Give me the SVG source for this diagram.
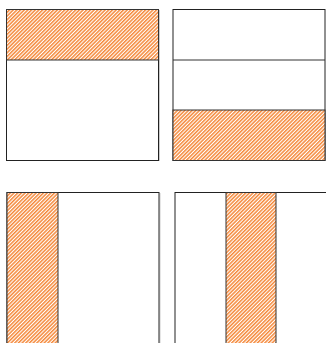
<svg xmlns="http://www.w3.org/2000/svg" width="326" height="343" viewBox="0 0 326 343">
<style>
.box{fill:#fff;stroke:#222;stroke-width:1}
.hatch{fill:url(#h);stroke:#333;stroke-width:1}
.line{stroke:#333;stroke-width:1;fill:none}
.shadow{stroke:#ccc;stroke-width:1;fill:none}
</style>
<defs>
<pattern id="h" patternUnits="userSpaceOnUse" width="2.6" height="2.6" patternTransform="rotate(45)">
<rect width="2.6" height="2.6" fill="#fff"/>
<rect width="1.5" height="2.6" fill="#f5893a"/>
</pattern>
</defs>
<g id="panel-top-left">
<line class="shadow" x1="159.5" y1="10" x2="159.5" y2="161"/>
<rect class="box" x="6.5" y="9.5" width="152" height="151"/>
<rect class="hatch" x="6.5" y="9.5" width="152" height="50.5"/>
</g>
<g id="panel-top-right">
<rect class="box" x="173" y="9.5" width="152" height="151"/>
<line class="line" x1="173" y1="60" x2="325" y2="60"/>
<rect class="hatch" x="173" y="110" width="152" height="50.5"/>
</g>
<g id="panel-bottom-left">
<line class="shadow" x1="160" y1="193" x2="160" y2="343"/>
<rect class="box" x="7" y="192.5" width="152" height="152"/>
<rect class="hatch" x="7" y="192.5" width="51" height="152"/>
</g>
<g id="panel-bottom-right">
<rect class="box" x="175" y="192.5" width="152" height="152"/>
<rect class="hatch" x="226" y="192.5" width="50" height="152"/>
</g>
</svg>
